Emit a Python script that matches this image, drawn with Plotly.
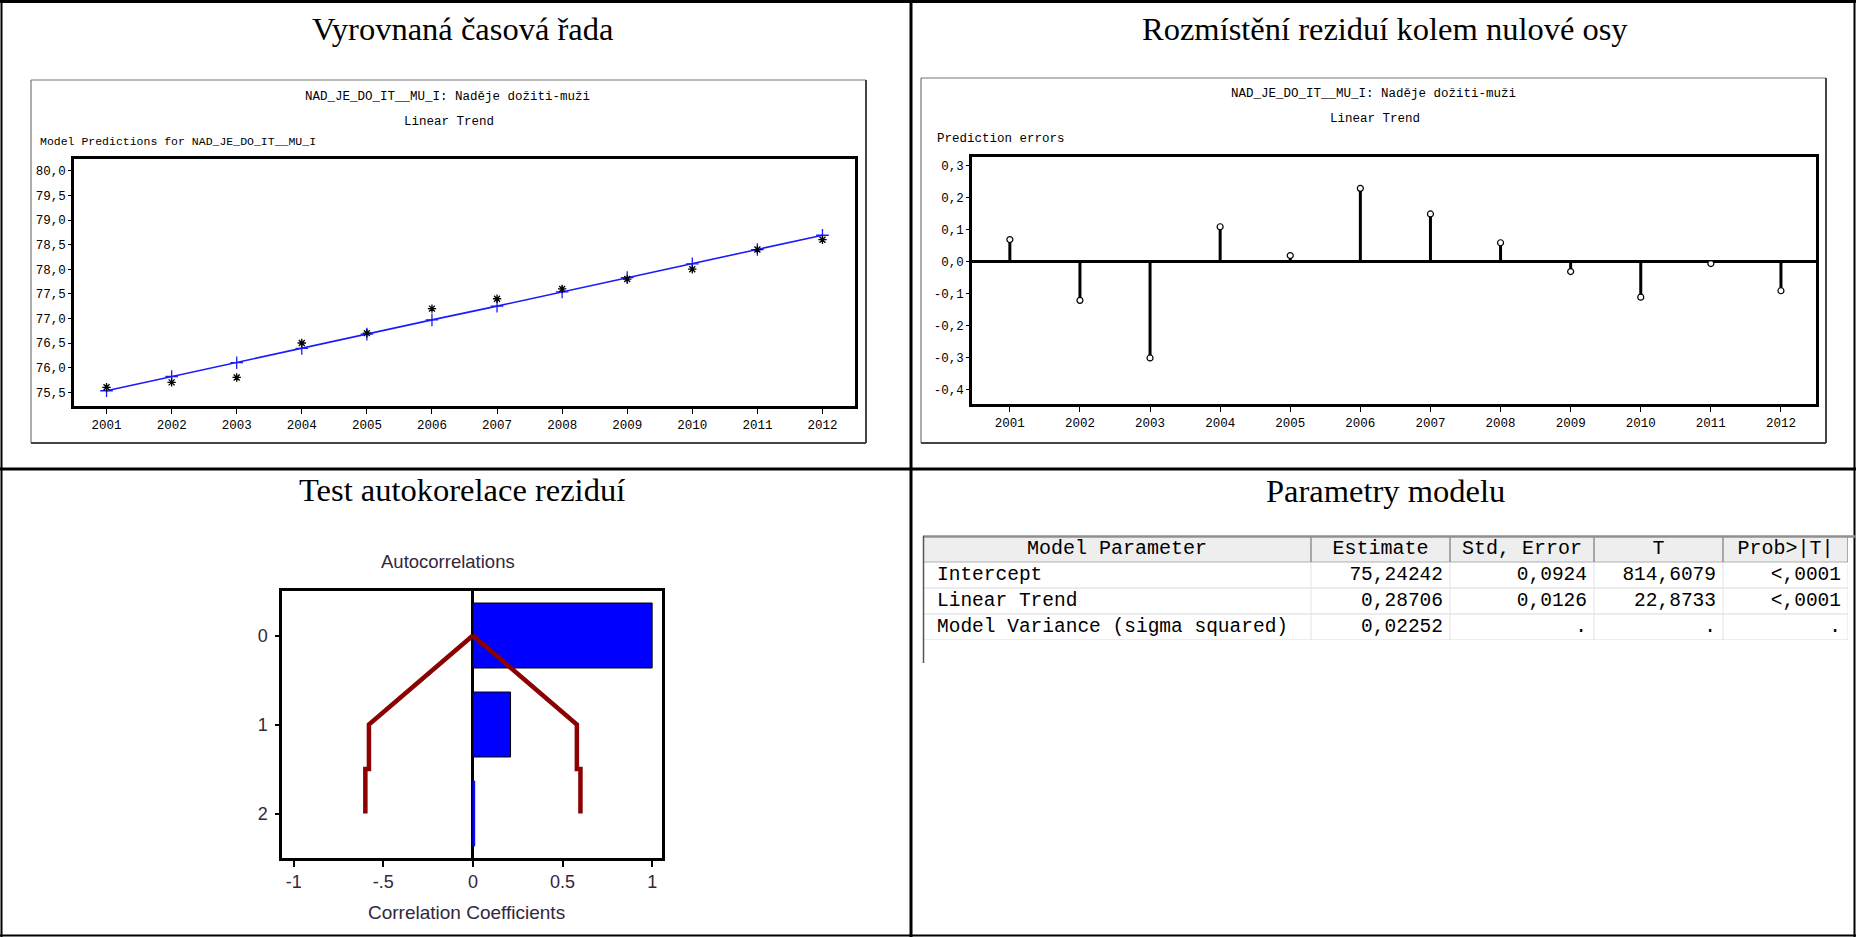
import plotly.graph_objects as go

# ---------------- data ----------------
years = [2001, 2002, 2003, 2004, 2005, 2006, 2007, 2008, 2009, 2010, 2011, 2012]
actual = [75.6, 75.7, 75.8, 76.5, 76.7, 77.2, 77.4, 77.6, 77.8, 78.0, 78.4, 78.6]
predicted = [75.53, 75.82, 76.10, 76.39, 76.68, 76.97, 77.25, 77.54, 77.83, 78.11, 78.40, 78.69]
residuals = [0.07, -0.12, -0.30, 0.11, 0.02, 0.23, 0.15, 0.06, -0.03, -0.11, -0.005, -0.09]

tl_ytickvals = [75.5, 76.0, 76.5, 77.0, 77.5, 78.0, 78.5, 79.0, 79.5, 80.0]
tl_ytickText = ["75,5", "76,0", "76,5", "77,0", "77,5", "78,0", "78,5", "79,0", "79,5", "80,0"]
tr_ytickvals = [0.3, 0.2, 0.1, 0.0, -0.1, -0.2, -0.3, -0.4]
tr_ytickText = ["0,3", "0,2", "0,1", "0,0", "-0,1", "-0,2", "-0,3", "-0,4"]
year_labels = [str(y) for y in years]

lags = [0, 1, 2]
acf_values = [1.0, 0.21, 0.01]
band_lags = [0, 1, 1.5, 1.5, 2]
band_upper = [0, 0.58, 0.58, 0.60, 0.60]
band_lower = [0, -0.58, -0.58, -0.60, -0.60]
acf_xtickvals = [-1, -0.5, 0, 0.5, 1]
acf_xtickText = ["-1", "-.5", "0", "0.5", "1"]

table_header = ["Model Parameter", "Estimate", "Std, Error", "T", "Prob>|T|"]
param_names = ["Intercept", "Linear Trend", "Model Variance (sigma squared)"]
estimates = ["75,24242", "0,28706", "0,02252"]
std_errors = ["0,0924", "0,0126", "."]
t_values = ["814,6079", "22,8733", "."]
prob_values = ["<,0001", "<,0001", "."]

panel_titles = ["Vyrovnaná časová řada", "Rozmístění reziduí kolem nulové osy",
                "Test autokorelace reziduí", "Parametry modelu"]

# ---------------- helpers ----------------
W, H = 1856, 937
def px(x):
    return x / W
def py(y):
    return 1 - y / H

SAS_FONT = "Liberation Mono"
ACF_FONT = "Liberation Sans"
ACF_TXT = "#33263d"
fig = go.Figure()

# ---- top-left: fitted trend ----
fig.add_trace(go.Scatter(x=years, y=predicted, mode="lines+markers",
                         line=dict(color="#1a1aff", width=1.6),
                         marker=dict(symbol="cross-thin", size=9, color="#1a1aff",
                                     line=dict(color="#1a1aff", width=1.3)),
                         xaxis="x", yaxis="y", hoverinfo="skip"))
fig.add_trace(go.Scatter(x=years, y=actual, mode="markers",
                         marker=dict(symbol="asterisk-open", size=7, color="black",
                                     line=dict(color="black", width=1.3)),
                         xaxis="x", yaxis="y", hoverinfo="skip"))

# ---- top-right: residual stems ----
stem_x, stem_y = [], []
for yv, r in zip(years, residuals):
    stem_x += [yv, yv, None]
    stem_y += [0, r, None]
fig.add_trace(go.Scatter(x=stem_x, y=stem_y, mode="lines",
                         line=dict(color="black", width=3), xaxis="x2", yaxis="y2", hoverinfo="skip"))
fig.add_trace(go.Scatter(x=years, y=residuals, mode="markers",
                         marker=dict(symbol="circle", size=6, color="white",
                                     line=dict(color="black", width=1.2)),
                         xaxis="x2", yaxis="y2", hoverinfo="skip"))

# ---- bottom-left: autocorrelations ----
fig.add_trace(go.Bar(x=acf_values, y=lags, orientation="h", width=0.73,
                     marker=dict(color="#0000ff", line=dict(color=["black", "black", "#0000ff"], width=1)),
                     xaxis="x3", yaxis="y3", hoverinfo="skip"))
fig.add_trace(go.Scatter(x=band_upper, y=band_lags, mode="lines",
                         line=dict(color="#8b0000", width=4.5), xaxis="x3", yaxis="y3", hoverinfo="skip"))
fig.add_trace(go.Scatter(x=band_lower, y=band_lags, mode="lines",
                         line=dict(color="#8b0000", width=4.5), xaxis="x3", yaxis="y3", hoverinfo="skip"))

# ---- bottom-right: parameter table (text on hidden axis x4/y4) ----
col_edges = [0, 388, 527, 671, 800, 925]   # layout: column borders (px from table left)
PAD_L, PAD_R = 14, 7
TFONT = dict(family=SAS_FONT, size=19.5, color="black")
HFONT = dict(family=SAS_FONT, size=20, color="black")
header_x = [(col_edges[i] + col_edges[i + 1]) / 2 for i in range(5)]
fig.add_trace(go.Scatter(x=header_x, y=[0] * 5, mode="text", text=table_header,
                         textposition="middle center", textfont=HFONT,
                         xaxis="x4", yaxis="y4", hoverinfo="skip"))
rows = [1, 2, 3]
fig.add_trace(go.Scatter(x=[col_edges[0] + PAD_L] * 3, y=rows, mode="text", text=param_names,
                         textposition="middle right", textfont=TFONT,
                         xaxis="x4", yaxis="y4", hoverinfo="skip"))
for ci, col in enumerate([estimates, std_errors, t_values, prob_values], start=1):
    fig.add_trace(go.Scatter(x=[col_edges[ci + 1] - PAD_R] * 3, y=rows, mode="text", text=col,
                             textposition="middle left", textfont=TFONT,
                             xaxis="x4", yaxis="y4", hoverinfo="skip"))

sas_axis = dict(showgrid=False, showline=True, mirror=True, linecolor="black", linewidth=2.5,
                ticks="outside", ticklen=4, tickcolor="black", tickwidth=1,
                tickfont=dict(family=SAS_FONT, size=12.5, color="black"), zeroline=False,
                fixedrange=True)

fig.update_layout(
    width=W, height=H, margin=dict(l=0, r=0, t=0, b=0),
    paper_bgcolor="white", plot_bgcolor="white", showlegend=False,
    xaxis=dict(sas_axis, domain=[px(74), px(855)], range=[2000.5, 2012.5],
               tickvals=years, ticktext=year_labels, ticklen=5, anchor="y"),
    yaxis=dict(sas_axis, domain=[py(406), py(159)], range=[75.22, 80.24],
               tickvals=tl_ytickvals, ticktext=tl_ytickText, ticklen=3, anchor="x"),
    xaxis2=dict(sas_axis, domain=[px(972), px(1816)], range=[2000.46, 2012.5],
                tickvals=years, ticktext=year_labels, ticklen=5, anchor="y2"),
    yaxis2=dict(sas_axis, domain=[py(404), py(157)], range=[-0.444, 0.328],
                tickvals=tr_ytickvals, ticktext=tr_ytickText, ticklen=3, anchor="x2",
                zeroline=True, zerolinecolor="black", zerolinewidth=2.5),
    xaxis3=dict(domain=[px(282), px(662)], range=[-1.065, 1.055], anchor="y3",
                showgrid=False, showline=True, mirror=True, linecolor="black", linewidth=2.5,
                ticks="outside", ticklen=6, tickwidth=2, tickcolor="black",
                tickvals=acf_xtickvals, ticktext=acf_xtickText,
                tickfont=dict(family=ACF_FONT, size=18, color=ACF_TXT),
                zeroline=True, zerolinecolor="black", zerolinewidth=3, fixedrange=True),
    yaxis3=dict(domain=[py(858), py(591)], range=[2.5, -0.5], anchor="x3",
                showgrid=False, showline=True, mirror=True, linecolor="black", linewidth=2.5,
                ticks="outside", ticklen=4, tickwidth=2, tickcolor="black",
                tickvals=lags, ticktext=[str(l) for l in lags], ticklabelstandoff=4,
                tickfont=dict(family=ACF_FONT, size=18, color=ACF_TXT),
                zeroline=False, fixedrange=True),
    xaxis4=dict(domain=[px(923), px(1848)], range=[0, 925], visible=False, anchor="y4",
                fixedrange=True),
    yaxis4=dict(domain=[py(640), py(536)], range=[3.5, -0.5], visible=False, anchor="x4",
                fixedrange=True),
)

# ---------------- annotations ----------------
ann = []
def text(x, y, s, size, family, xanchor="center", color="black"):
    ann.append(dict(x=px(x), y=py(y), xref="paper", yref="paper", text=s, showarrow=False,
                    xanchor=xanchor, yanchor="middle", font=dict(family=family, size=size, color=color)))

for (cx, cy), t in zip([(462, 29), (1385, 29), (462, 490), (1385, 491)], panel_titles):
    text(cx, cy, t, 32.5, "Liberation Serif")

text(447, 97, "NAD_JE_DO_IT__MU_I: Naděje dožiti-muži", 12.5, SAS_FONT)
text(449, 122, "Linear Trend", 12.5, SAS_FONT)
text(38, 142, "Model Predictions for NAD_JE_DO_IT__MU_I", 11.5, SAS_FONT, xanchor="left")
text(1373, 94, "NAD_JE_DO_IT__MU_I: Naděje dožiti-muži", 12.5, SAS_FONT)
text(1375, 119, "Linear Trend", 12.5, SAS_FONT)
text(935, 139, "Prediction errors", 12.5, SAS_FONT, xanchor="left")
text(448, 561, "Autocorrelations", 18.5, ACF_FONT, color=ACF_TXT)
text(466, 912, "Correlation Coefficients", 19, ACF_FONT, color=ACF_TXT)
fig.update_layout(annotations=ann)

# ---------------- frames / grid lines ----------------
shapes = []
def line(x0, y0, x1, y1, w, color="black"):
    shapes.append(dict(type="line", xref="paper", yref="paper", x0=px(x0), y0=py(y0),
                       x1=px(x1), y1=py(y1), line=dict(color=color, width=w)))

# outer document table
line(0, 1.5, 1856, 1.5, 3)
line(1.5, 0, 1.5, 937, 2)
line(1854.5, 0, 1854.5, 937, 2)
line(0, 935.5, 1856, 935.5, 2)
line(911, 0, 911, 937, 3)
line(0, 469, 1856, 469, 3)

# SAS graph frames
for x0, y0, x1, y1 in [(31, 80, 866, 443), (921, 78, 1826, 443)]:
    line(x0, y0, x1, y0, 1.2, "#777777")
    line(x0, y0, x0, y1, 1.2, "#777777")
    line(x1, y0, x1, y1, 2, "#444444")
    line(x0, y1, x1, y1, 2, "#444444")

# parameter table grid (axis x4/y4 units: px across, rows down)
shapes.append(dict(type="rect", xref="x4", yref="y4", x0=col_edges[0], x1=col_edges[-1],
                   y0=-0.5, y1=0.5, fillcolor="#eeeeee", line=dict(width=0), layer="below"))
for r in [0.5, 1.5, 2.5, 3.5]:
    shapes.append(dict(type="line", xref="x4", yref="y4", x0=col_edges[0], x1=col_edges[-1],
                       y0=r, y1=r, line=dict(color="#d9d9d9" if r > 0.5 else "#b0b0b0", width=1),
                       layer="below"))
for e in col_edges[1:]:
    shapes.append(dict(type="line", xref="x4", yref="y4", x0=e, x1=e, y0=-0.5, y1=0.5,
                       line=dict(color="#7a7a7a", width=1.2), layer="below"))
    shapes.append(dict(type="line", xref="x4", yref="y4", x0=e, x1=e, y0=0.5, y1=3.5,
                       line=dict(color="#e2e2e2", width=1), layer="below"))
line(923, 536.5, 1856, 536.5, 2.5, "#8f8f8f")
line(923.5, 536, 923.5, 663, 1.5, "#555555")
fig.update_layout(shapes=shapes)

fig.write_html("out.html", config={"displayModeBar": False},
               post_script="document.body.style.margin='0';document.body.style.overflow='hidden';")
